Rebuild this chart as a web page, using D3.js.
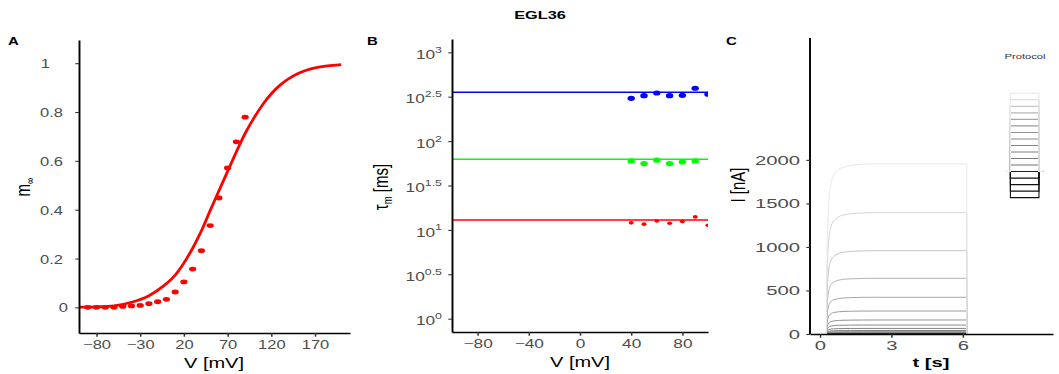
<!DOCTYPE html>
<html><head><meta charset="utf-8">
<script src="https://cdn.jsdelivr.net/npm/d3@7"></script>
<style>body{margin:0;background:#fff} svg{display:block} text{font-family:"Liberation Sans",Arial,sans-serif}</style>
</head><body><svg id="c" width="1059" height="374"></svg>
<script>
// ---------------- data ----------------
// Panel A: steady-state activation
const mV   = [-90,-80,-70,-60,-50,-40,-30,-20,-10,0,10,20,30,40,50,60,70,80,90];
const mInf = [0,0,0,0,0.004,0.006,0.008,0.015,0.023,0.033,0.063,0.104,0.157,0.232,0.335,0.448,0.571,0.678,0.779];
const fitV = [-100,-80,-60,-40,-20,0,10,20,30,40,50,60,70,80,90,100,110,120,130,140,150,160,170,180,190,200];
const fitM = [0.001,0.002,0.006,0.021,0.048,0.097,0.132,0.182,0.242,0.313,0.396,0.477,0.557,0.637,0.712,0.775,0.83,0.875,0.91,0.937,0.957,0.971,0.981,0.987,0.991,0.994];
const aXTicks = [-80,-30,20,70,120,170];
const aYTicks = [0,0.2,0.4,0.6,0.8,1];

// Panel B: time constants
const tauV      = [40,50,60,70,80,90,100];
const tauBlue   = [303,325,348,325,328,394,337];
const tauGreen  = [59.8,55.8,61.0,55.8,58.3,59.8];
const tauRed    = [12.0,11.6,12.6,11.9,12.4,14.0,11.3];
const tauFitV   = [-100,100];
const tauFitBlue = 354, tauFitGreen = 62.5, tauFitRed = 12.9;
const bXTicks = [-80,-40,0,40,80];
const bYExp   = ["0","0.5","1","1.5","2","2.5","3"];

// Panel C: current traces
const sweepV   = [-90,-80,-70,-60,-50,-40,-30,-20,-10,0,10,20,30,40,50,60,70];
const plateau  = [0,0,0,0,0,15,25,40,64,103,161,264,422,640,957,1394,1954];
const sweepCol = ["#111111","#111111","#111111","#111111","#222222","#727272","#787878","#7e7e7e","#848484","#8a8a8a","#929292","#9c9c9c","#a8a8a8","#b6b6b6","#c6c6c6","#d6d6d6","#e8e8e8"];
const traceDt    = [0,0.01,0.03,0.06,0.1,0.15,0.2,0.3,0.4,0.5,0.7,1.0,1.5,2.0];
const traceShape = [0,0.25,0.5,0.66,0.78,0.85,0.89,0.93,0.95,0.965,0.98,0.99,0.997,1];
const stepOn = 0.27, stepOff = 6.17;
const cXTicks = [0,3,6];
const cYTicks = [0,500,1000,1500,2000];
const holdV = -50;
const protoT = [7.82, 8.0, 9.2, 9.38];

// ---------------- helpers ----------------
const svg = d3.select("#c");
function txt(g, x, y, sx, o) {
  return g.append("text")
    .attr("transform", `translate(${x},${y}) scale(${sx},1)` + (o.rotate ? ` rotate(${o.rotate})` : ""))
    .attr("text-anchor", o.anchor || "middle")
    .attr("font-size", o.size)
    .attr("font-weight", o.weight || "normal")
    .attr("fill", o.fill || "#000");
}
function styleAxis(g, sx, vertical) {
  g.select(".domain").attr("stroke", "#000").attr("stroke-width", vertical ? 1.9 : 1.4);
  g.selectAll(".tick line").attr("stroke", "#333").attr("stroke-width", vertical ? 1.1 : 1.5);
  g.selectAll(".tick text").each(function () {
    const t = d3.select(this);
    const x = +t.attr("x") || 0;
    t.attr("x", x / sx).attr("transform", `scale(${sx},1)`);
  });
  g.selectAll(".tick text").attr("fill", "#4d4d4d").attr("font-family", '"Liberation Sans",Arial,sans-serif');
}
const TS = 12.5;

// ---------------- title & panel letters ----------------
txt(svg, 540, 19, 1.42, {size: 11.5, weight: "bold"}).text("EGL36");
txt(svg, 8, 45, 1.5, {size: 10, weight: "bold", anchor: "start"}).text("A");
txt(svg, 367, 45, 1.5, {size: 10, weight: "bold", anchor: "start"}).text("B");
txt(svg, 726, 45, 1.5, {size: 10, weight: "bold", anchor: "start"}).text("C");

// ---------------- Panel A ----------------
{
  const sx = 1.32;
  const x = d3.scaleLinear([-100, 210], [79, 350]);
  const y = d3.scaleLinear([-0.105, 1.095], [333, 40]);
  const g = svg.append("g");
  g.append("path").datum(fitV.map((v, i) => [v, fitM[i]]))
    .attr("fill", "none").attr("stroke", "#ff0000").attr("stroke-width", 2.8)
    .attr("d", d3.line().x(d => x(d[0])).y(d => y(d[1])).curve(d3.curveCatmullRom.alpha(0.5)));
  g.selectAll("ellipse").data(mV).join("ellipse")
    .attr("cx", (d) => x(d)).attr("cy", (d, i) => y(mInf[i]))
    .attr("rx", 3.6).attr("ry", 2.4).attr("fill", "#ff0000");
  const ax = g.append("g").attr("transform", "translate(0,333)")
    .call(d3.axisBottom(x).tickValues(aXTicks).tickSize(3.7).tickSizeOuter(0).tickPadding(3.5));
  ax.selectAll("text").attr("font-size", TS);
  styleAxis(ax, sx, false);
  const ay = g.append("g").attr("transform", "translate(79,0)")
    .call(d3.axisLeft(y).tickValues(aYTicks).tickFormat(d3.format("")).tickSize(3.7).tickSizeOuter(0).tickPadding(12.3));
  ay.selectAll("text").attr("font-size", TS).attr("dy", "0.36em");
  styleAxis(ay, sx, true);
  ay.selectAll(".tick text").filter(d => d === 0).attr("dx", 5 / sx);
  ay.selectAll(".tick text").filter(d => d === 1).attr("dx", -13 / sx);
  txt(g, 214, 367.5, 1.43, {size: 14}).text("V [mV]");
  const yl = txt(g, 30, 187, 1.35, {size: 15, rotate: -90});
  yl.append("tspan").text("m");
  yl.append("tspan").attr("font-size", 9).attr("dy", 3).text("∞");
}

// ---------------- Panel B ----------------
{
  const sx = 1.38;
  const x = d3.scaleLinear([-100, 100], [452, 708]);
  const y = d3.scaleLog([Math.pow(10, -0.15), Math.pow(10, 3.15)], [332, 39]);
  const g = svg.append("g");
  svg.append("clipPath").attr("id", "clipB").append("rect").attr("x", 452).attr("y", 30).attr("width", 256).attr("height", 302);
  const pg = g.append("g").attr("clip-path", "url(#clipB)");
  const fits = [[tauFitBlue, "#0000ff"], [tauFitGreen, "#00ff00"], [tauFitRed, "#ff0000"]];
  fits.forEach(([v, c]) => {
    pg.append("path").datum(tauFitV).attr("fill", "none").attr("stroke", c).attr("stroke-width", 1.5)
      .attr("d", d3.line().x(d => x(d)).y(() => y(v)));
  });
  const pts = [[tauBlue, "#0000ff", 3.7, 2.6], [tauGreen, "#00ff00", 3.7, 2.6], [tauRed, "#ff0000", 2.5, 1.8]];
  pts.forEach(([vals, c, rx, ry]) => {
    pg.append("g").selectAll("ellipse").data(vals).join("ellipse")
      .attr("cx", (d, i) => x(tauV[i])).attr("cy", d => y(d))
      .attr("rx", rx).attr("ry", ry).attr("fill", c);
  });
  const ax = g.append("g").attr("transform", "translate(0,332)")
    .call(d3.axisBottom(x).tickValues(bXTicks).tickSize(3.7).tickSizeOuter(0).tickPadding(3.5));
  ax.selectAll("text").attr("font-size", TS);
  styleAxis(ax, sx, false);
  const yTickVals = bYExp.map(e => Math.pow(10, +e));
  const ay = g.append("g").attr("transform", "translate(452,0)")
    .call(d3.axisLeft(y).tickValues(yTickVals).tickFormat(() => "").tickSize(3.7).tickSizeOuter(0).tickPadding(6.3));
  styleAxis(ay, sx, true);
  ay.selectAll(".tick").each(function (d, i) {
    const t = d3.select(this).select("text").attr("font-size", TS).attr("dy", "0.5em").text(null);
    t.append("tspan").text("10");
    t.append("tspan").attr("font-size", 9).attr("dy", "-0.7em").text(bYExp[i]);
  });
  txt(g, 580, 367, 1.43, {size: 14}).text("V [mV]");
  const yl = txt(g, 388, 187, 1.35, {size: 15, rotate: -90});
  yl.append("tspan").text("τ");
  yl.append("tspan").attr("font-size", 9.5).attr("dy", 3).text("m");
  yl.append("tspan").attr("dy", -3).text(" [ms]");
}

// ---------------- Panel C ----------------
{
  const sx = 1.62;
  const x = d3.scaleLinear([-0.42, 9.79], [810, 1053]);
  const y = d3.scaleLinear([0, 3400], [334, 38]);
  const g = svg.append("g");
  const line = d3.line().x(d => x(d[0])).y(d => y(d[1]));
  sweepV.forEach((v, i) => {
    const pts = traceDt.map((dt, k) => [stepOn + dt, plateau[i] * traceShape[k]]);
    pts.push([stepOff, plateau[i]], [stepOff, 0]);
    g.append("path").datum(pts).attr("fill", "none").attr("stroke", sweepCol[i]).attr("stroke-width", 1)
      .attr("d", line.curve(d3.curveMonotoneX));
  });
  // protocol inset
  const pv = d3.scaleLinear([-90, 70], [1566, 2765]);
  const pline = d3.line().x(d => x(d[0])).y(d => y(pv(d[1])));
  sweepV.forEach((v, i) => {
    const pts = [[protoT[0], holdV], [protoT[1], holdV], [protoT[1], v], [protoT[2], v], [protoT[2], holdV], [protoT[3], holdV]];
    g.append("path").datum(pts).attr("fill", "none").attr("stroke", sweepCol[i]).attr("stroke-width", 1.1).attr("d", pline);
  });
  txt(g, 1025, 59, 1.6, {size: 7, fill: "#333333"}).text("Protocol");
  const ax = g.append("g").attr("transform", "translate(0,334)")
    .call(d3.axisBottom(x).tickValues(cXTicks).tickSize(3.7).tickSizeOuter(0).tickPadding(3.5));
  ax.selectAll("text").attr("font-size", TS);
  styleAxis(ax, sx, false);
  const ay = g.append("g").attr("transform", "translate(810,0)")
    .call(d3.axisLeft(y).tickValues(cYTicks).tickFormat(d3.format("d")).tickSize(3.7).tickSizeOuter(0).tickPadding(6.3));
  ay.selectAll("text").attr("font-size", TS).attr("dy", "0.36em");
  styleAxis(ay, sx, true);
  ay.select(".domain").attr("d", "M0,38V334");
  txt(g, 931, 367, 1.55, {size: 13, weight: "bold"}).text("t [s]");
  txt(g, 745, 185, 1.35, {size: 15, rotate: -90}).text("I [nA]");
}
</script></body></html>
